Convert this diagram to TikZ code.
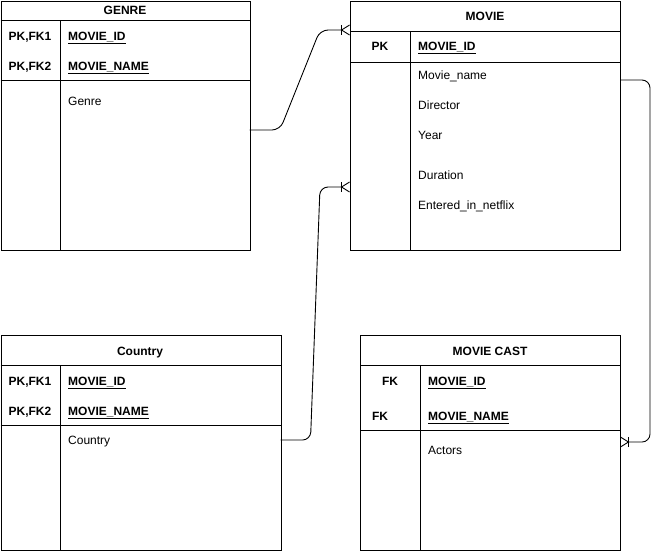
\documentclass[tikz,border=0pt]{standalone}
\usepackage{fontspec}
\setmainfont{Liberation Sans}
\usetikzlibrary{arrows.meta}
\tikzset{
    every node/.style={inner sep=0pt, font=\fontsize{12}{14}\selectfont}
}
\tikzset{
    table/.style={draw, rectangle, anchor=north west, line width=1pt},
    ttl/.style={anchor=base, font=\fontsize{12}{14}\selectfont\bfseries},
    keylbl/.style={anchor=base, font=\fontsize{12}{14}\selectfont\bfseries},
    keyfld/.style={anchor=base west, font=\fontsize{12}{14}\selectfont\bfseries},
    fld/.style={anchor=base west}
}
\tikzset{
    relation/.style={line width=0.9pt, rounded corners=8pt,
    	-{Bar[width=10pt,length=0.9pt,sep=-1pt]Straight Barb[reversed,length=8pt,width=10pt]}}
}

\begin{document}
\begin{tikzpicture}[x=1pt,y=-1pt]
  \useasboundingbox (0,0) rectangle (660,552);
  \node[table, minimum width=249pt, minimum height=249pt] (genre) at (0.5,0.5) {};
  \node[table, minimum width=270pt, minimum height=249pt] (movie) at (350,0.5) {};
  \node[table, minimum width=280pt, minimum height=215pt] (country) at (0.5,335) {};
  \node[table, minimum width=260pt, minimum height=215pt] (cast) at (360,335) {};

  \draw (0.5,20) -- (249.5,20); \draw (0.5,80) -- (249.5,80); \draw (60,20) -- (60,249.5);
  \draw (350,31) -- (620,31); \draw (350,62) -- (620,62); \draw (410,31) -- (410,249.5);
  \draw (0.5,365) -- (280.5,365); \draw (0.5,425) -- (280.5,425); \draw (60,365) -- (60,550);
  \draw (360,365) -- (620,365); \draw (360,430) -- (620,430); \draw (420,365) -- (420,550);

  \node[ttl] (genre-t) at (125,14.3) {GENRE};
  \node[keylbl] (genre-k1) at (30,40.3) {PK,FK1};
  \node[keylbl] (genre-k2) at (30,70.3) {PK,FK2};
  \node[keyfld] (genre-f1) at (68,40.3) {\underline{MOVIE\_ID}};
  \node[keyfld] (genre-f2) at (68,70.3) {\underline{MOVIE\_NAME}};
  \node[fld] (genre-f3) at (68,105.3) {Genre};

  \node[ttl] (movie-t) at (485,20.3) {MOVIE};
  \node[keylbl] (movie-k1) at (380,50.3) {PK};
  \node[keyfld] (movie-f1) at (418,50.3) {\underline{MOVIE\_ID}};
  \node[fld] (movie-f2) at (418,79.3) {Movie\_name};
  \node[fld] (movie-f3) at (418,109.3) {Director};
  \node[fld] (movie-f4) at (418,139.3) {Year};
  \node[fld] (movie-f5) at (418,179.3) {Duration};
  \node[fld] (movie-f6) at (418,209.3) {Entered\_in\_netflix};

  \node[ttl] (country-t) at (140,355.3) {Country};
  \node[keylbl] (country-k1) at (30,385.3) {PK,FK1};
  \node[keylbl] (country-k2) at (30,415.3) {PK,FK2};
  \node[keyfld] (country-f1) at (68,385.3) {\underline{MOVIE\_ID}};
  \node[keyfld] (country-f2) at (68,415.3) {\underline{MOVIE\_NAME}};
  \node[fld] (country-f3) at (68,444.3) {Country};

  \node[ttl] (cast-t) at (490,355.3) {MOVIE CAST};
  \node[keylbl] (cast-k1) at (390,385.3) {FK};
  \node[keylbl] (cast-k2) at (380,420.3) {FK};
  \node[keyfld] (cast-f1) at (428,385.3) {\underline{MOVIE\_ID}};
  \node[keyfld] (cast-f2) at (428,420.3) {\underline{MOVIE\_NAME}};
  \node[fld] (cast-f3) at (428,454.3) {Actors};

  \coordinate (genre-out) at (249.5,130);
  \coordinate (movie-in1) at (350,30);
  \coordinate (country-out) at (280.5,440);
  \coordinate (movie-in2) at (350,187);
  \coordinate (movie-out) at (620,80);
  \coordinate (cast-in) at (620,442);

  \draw[relation] (genre-out) -- (280,130) -- (320,30) -- (movie-in1);
  \draw[relation] (country-out) -- (310.5,440) -- (320,187) -- (movie-in2);
  \draw[relation] (movie-out) -- (650,80) -- (650,442) -- (cast-in);
\end{tikzpicture}
\end{document}
